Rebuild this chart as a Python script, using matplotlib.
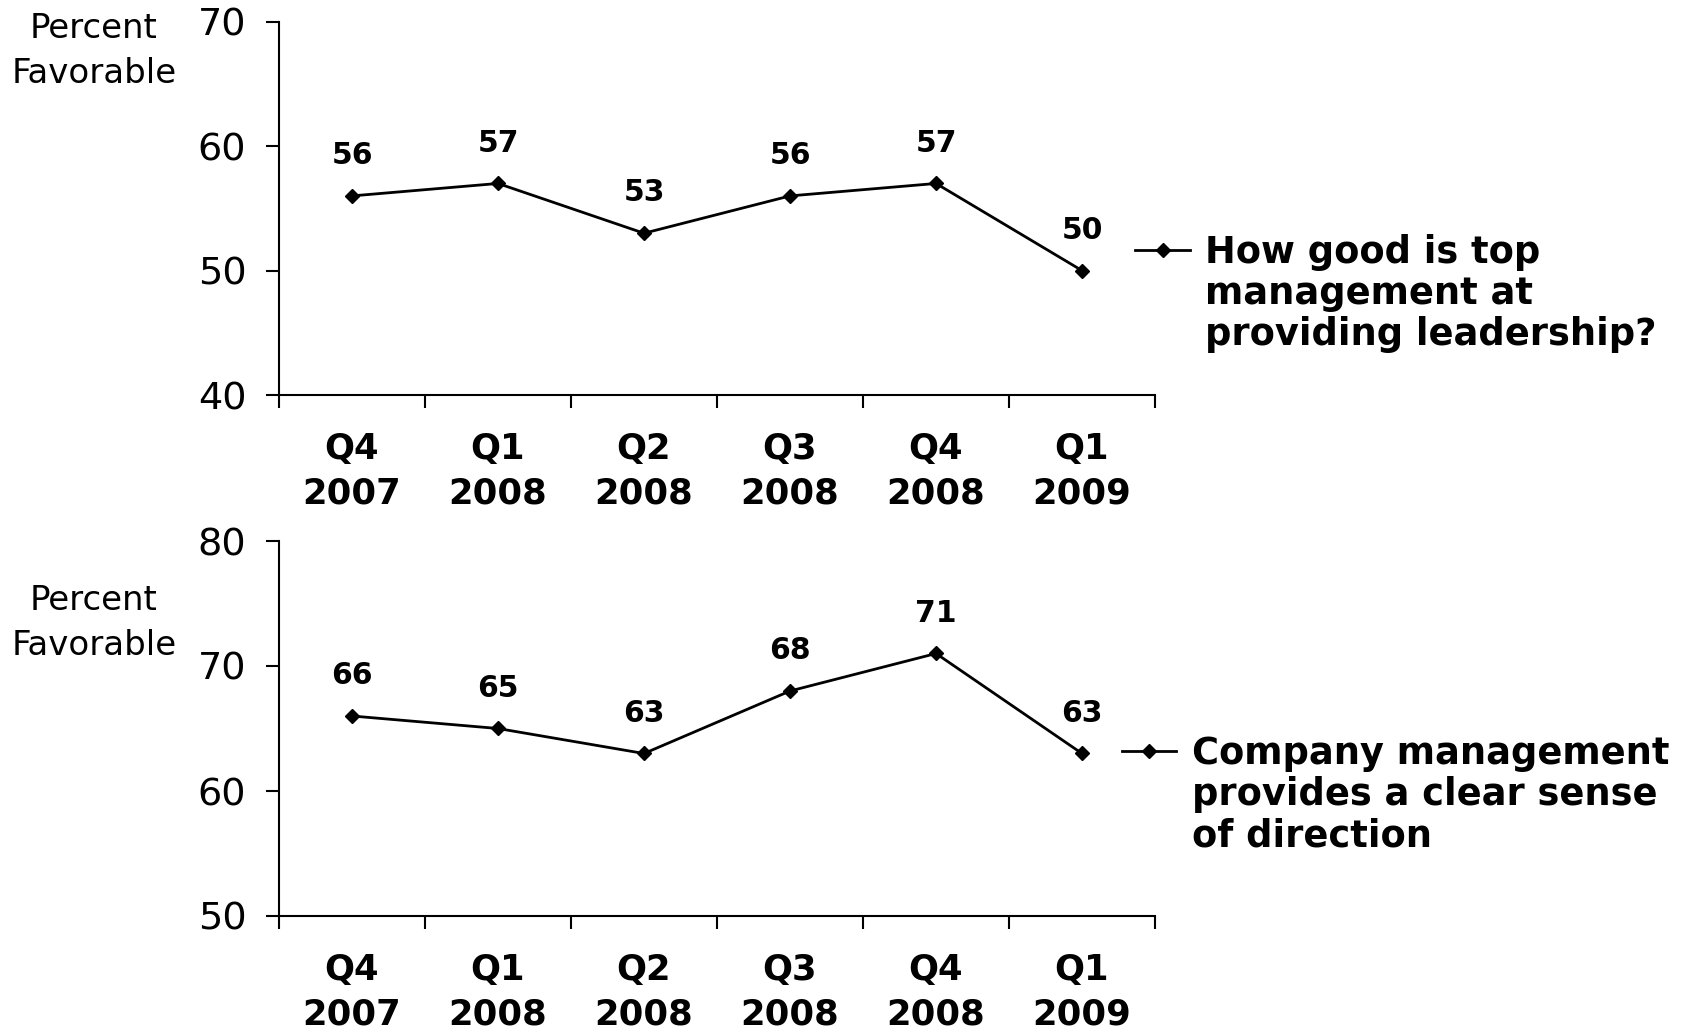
import matplotlib
matplotlib.use("Agg")
import matplotlib.pyplot as plt
from matplotlib.lines import Line2D
import numpy as np

# Data
quarters = ["Q4\n2007", "Q1\n2008", "Q2\n2008", "Q3\n2008", "Q4\n2008", "Q1\n2009"]
leadership = [56, 57, 53, 56, 57, 50]
direction = [66, 65, 63, 68, 71, 63]
label_top = "How good is top\nmanagement at\nproviding leadership?"
label_bottom = "Company management\nprovides a clear sense\nof direction"

W, H = 1700, 1029
plt.rcParams['font.family'] = ['DejaVu Sans']

fig = plt.figure(figsize=(W / 100, H / 100), dpi=100)


def fx(px):
    return px / W


def fy(py):
    return 1 - py / H


def draw(ax, values, ylo, yhi):
    x = np.arange(1, len(values) + 1)
    ax.plot(x, values, color='black', lw=2.0, marker='D', ms=7, clip_on=False)
    for xi, v in zip(x, values):
        ax.annotate(str(v), (xi, v), xytext=(0, 29), textcoords='offset points',
                    ha='center', va='center', fontsize=21.5, fontweight='bold')
    ax.set_xlim(0.5, len(values) + 0.5)
    ax.set_ylim(ylo, yhi)
    ax.set_yticks(np.arange(ylo, yhi + 1, 10))
    ax.tick_params(axis='y', labelsize=27.5, length=9.5, width=1.5, pad=14, direction='out')
    ax.set_xticks(x)
    ax.set_xticklabels(quarters, fontsize=25.5, fontweight='bold', linespacing=1.38)
    ax.set_xticks(np.arange(0.5, len(values) + 1), minor=True)
    ax.tick_params(axis='x', which='major', length=0, pad=26.5)
    ax.tick_params(axis='x', which='minor', length=9, width=1.5, direction='out')
    for s in ['top', 'right']:
        ax.spines[s].set_visible(False)
    for s in ['left', 'bottom']:
        ax.spines[s].set_linewidth(1.5)


ax1 = fig.add_axes([fx(279), fy(395), fx(1155) - fx(279), fy(21.7) - fy(395)])
draw(ax1, leadership, 40, 70)
ax2 = fig.add_axes([fx(279), fy(916), fx(1155) - fx(279), fy(541) - fy(916)])
draw(ax2, direction, 50, 80)

# y-axis titles
fig.text(fx(94), fy(51), "Percent\nFavorable", ha='center', va='center', fontsize=24.5, linespacing=1.48)
fig.text(fx(94), fy(623), "Percent\nFavorable", ha='center', va='center', fontsize=24.5, linespacing=1.48)

# legends, handle beside the first line
for (x0, x1, y, tx, txt) in [(1135, 1190, 250, 1205, label_top),
                             (1122, 1176, 751, 1192, label_bottom)]:
    fig.add_artist(Line2D([fx(x0), fx(x1)], [fy(y), fy(y)], color='black', lw=2.0))
    fig.add_artist(Line2D([fx((x0 + x1) / 2)], [fy(y)], color='black', marker='D', ms=7))
    fig.text(fx(tx), fy(y - 16), txt, ha='left', va='top', fontsize=26.5, fontweight='bold',
             linespacing=1.14)

fig.savefig("out.png", dpi=100)
